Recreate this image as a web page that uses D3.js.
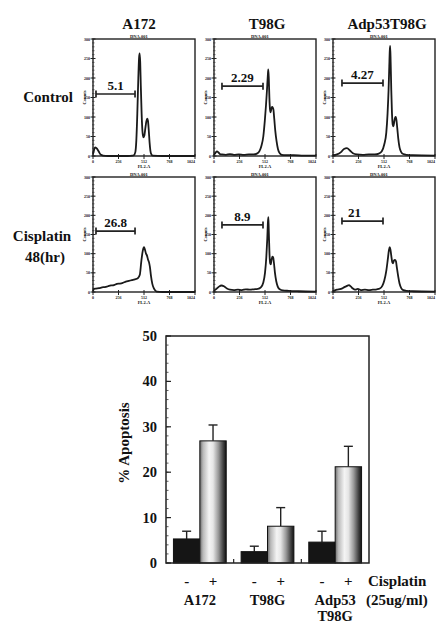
<!DOCTYPE html>
<html><head><meta charset="utf-8">
<script src="https://cdn.jsdelivr.net/npm/d3@7/dist/d3.min.js"></script>
<style>
html,body{margin:0;padding:0;background:#fff;}
svg{display:block;}
text{font-family:"Liberation Serif","Times New Roman",serif;font-weight:bold;fill:#111;-webkit-font-smoothing:antialiased;}
</style></head>
<body><svg id="c" width="436" height="624"></svg>
<script>
// ---------- DATA ----------
const cellLines = ["A172", "T98G", "Adp53T98G"];
const conditions = ["Control", "Cisplatin 48(hr)"];

// DNA histograms: [channel, count]
const a172Ctrl = [[0,5],[10,15],[20,22],[35,20],[50,15],[65,8],[80,3],[100,1],[150,0],[250,0],[350,0],[395,1],[410,2],[425,10],[435,40],[445,110],[455,200],[462,250],[468,263],[474,240],[480,180],[488,110],[496,65],[505,48],[515,52],[525,70],[535,88],[545,96],[552,90],[560,65],[568,35],[576,14],[585,5],[600,1],[700,0],[850,0],[1024,0]];
const t98gCtrl = [[0,3],[15,8],[30,12],[45,9],[60,5],[80,4],[120,3],[160,5],[200,3],[250,4],[300,3],[350,4],[400,4],[430,6],[455,12],[475,25],[495,50],[510,90],[522,130],[532,170],[540,205],[545,222],[550,200],[556,150],[562,120],[568,112],[575,120],[583,126],[590,124],[597,118],[605,95],[615,65],[628,38],[642,18],[660,7],[680,3],[720,2],[800,2],[900,1],[1024,1]];
const adpCtrl = [[0,2],[40,4],[80,10],[110,18],[140,20],[170,14],[200,7],[240,4],[300,3],[360,4],[420,4],[460,6],[490,12],[515,30],[535,60],[548,110],[558,170],[565,230],[570,270],[574,282],[579,240],[585,170],[592,110],[600,80],[607,76],[615,88],[623,98],[630,100],[637,92],[645,72],[655,45],[668,22],[685,10],[705,5],[740,3],[800,2],[1024,1]];
const a172Cis = [[0,3],[10,8],[30,9],[60,10],[90,12],[120,13],[150,15],[180,17],[210,18],[240,21],[270,22],[300,24],[330,27],[360,29],[390,31],[420,33],[450,36],[470,45],[485,80],[500,108],[512,117],[522,110],[532,100],[542,95],[552,85],[562,78],[572,64],[582,42],[595,22],[610,10],[625,4],[640,1],[700,0],[850,0],[1024,0]];
const t98gCis = [[0,3],[25,8],[50,14],[75,17],[100,15],[130,9],[160,6],[200,5],[240,6],[280,5],[320,7],[360,6],[400,7],[440,8],[470,12],[495,25],[512,50],[525,90],[535,140],[542,185],[546,195],[550,160],[557,100],[564,75],[570,72],[578,85],[586,92],[594,90],[602,75],[612,50],[625,28],[640,14],[660,7],[690,4],[750,3],[850,2],[1024,1]];
const adpCis = [[0,3],[40,6],[80,8],[110,12],[140,16],[160,18],[180,14],[200,9],[220,6],[250,8],[280,5],[320,6],[360,5],[400,6],[440,7],[470,9],[495,16],[515,30],[535,55],[550,85],[562,110],[570,117],[577,110],[585,95],[595,78],[603,75],[612,82],[622,84],[632,80],[642,62],[655,40],[668,22],[685,10],[705,5],[740,3],[800,2],[1024,1]];
const histograms = [a172Ctrl, t98gCtrl, adpCtrl, a172Cis, t98gCis, adpCis];

// sub-G1 gates
const gateLabels = ["5.1", "2.29", "4.27", "26.8", "8.9", "21"];
const gateFrom  = [30, 80, 90, 30, 80, 90];
const gateTo    = [422, 492, 502, 422, 492, 502];
const gateLevel = [159, 179, 187, 159, 175, 185];

const histXTicks = [0, 256, 512, 768, 1024];
const histYTicks = [0, 50, 100, 150, 200, 250, 300];

// bar chart
const groups = ["A172", "T98G", "Adp53T98G"];
const groupLabels = [["A172"], ["T98G"], ["Adp53", "T98G"]];
const treatments = ["-", "+"];
const ctrlApoptosis = [5.3, 2.5, 4.6];
const ctrlSD = [1.7, 1.2, 2.4];
const cisApoptosis = [26.9, 8.1, 21.2];
const cisSD = [3.5, 4.1, 4.5];
const barYTicks = [0, 10, 20, 30, 40, 50];

// ---------- LAYOUT ----------
const svg = d3.select("#c");
const colLeft = [93, 214, 333];
const rowTop = [39, 177];
const PW = 102, PH = [117, 115];
const titleDx = [-5, 2, 3];

const hx = d3.scaleLinear().domain([0, 1024]).range([0, PW]);

// column titles
cellLines.forEach((c, i) => {
  svg.append("text").attr("x", colLeft[i] + PW / 2 + titleDx[i]).attr("y", 29)
    .attr("text-anchor", "middle").attr("font-size", 15).text(c);
});
// row labels
svg.append("text").attr("x", 73).attr("y", 102).attr("text-anchor", "end").attr("font-size", 15).text("Control");
svg.append("text").attr("x", 42).attr("y", 241).attr("text-anchor", "middle").attr("font-size", 15).text("Cisplatin");
svg.append("text").attr("x", 45).attr("y", 262).attr("text-anchor", "middle").attr("font-size", 15).text("48(hr)");

histograms.forEach((data, k) => {
  const r = Math.floor(k / 3), c = k % 3;
  const h = PH[r];
  const g = svg.append("g").attr("transform", `translate(${colLeft[c]},${rowTop[r]})`);
  const hy = d3.scaleLinear().domain([0, 300]).range([h, 0]);

  // frame
  g.append("rect").attr("width", PW).attr("height", h).attr("fill", "#fff")
    .attr("stroke", "#222").attr("stroke-width", 1.4);

  // tiny header text (file name)
  g.append("text").attr("x", PW * 0.45).attr("y", -1.5).attr("text-anchor", "middle")
    .attr("font-size", 4.5).attr("fill", "#222").text("DNA.001");

  // left axis: minor ticks
  const minor = d3.range(0, 301, 10);
  g.selectAll(".mn").data(minor).join("line")
    .attr("x1", -1).attr("x2", 1.5).attr("y1", d => hy(d)).attr("y2", d => hy(d))
    .attr("stroke", "#333").attr("stroke-width", 0.7);
  g.selectAll(".mj").data(histYTicks).join("line")
    .attr("x1", -2.5).attr("x2", 2.5).attr("y1", d => hy(d)).attr("y2", d => hy(d))
    .attr("stroke", "#222").attr("stroke-width", 1);
  g.selectAll(".yl").data(histYTicks).join("text")
    .attr("x", -3).attr("y", d => hy(d) + 1.5).attr("text-anchor", "end")
    .attr("font-size", 4).attr("fill", "#333").text(d => d);
  g.append("text").attr("transform", `translate(-7,${h * 0.5}) rotate(-90)`)
    .attr("text-anchor", "middle").attr("font-size", 4.5).attr("fill", "#333").text("Counts");

  // bottom axis
  g.selectAll(".bx").data(histXTicks).join("line")
    .attr("x1", d => hx(d)).attr("x2", d => hx(d)).attr("y1", h - 2).attr("y2", h + 3)
    .attr("stroke", "#222").attr("stroke-width", 1);
  g.selectAll(".bxl").data(histXTicks).join("text")
    .attr("x", d => hx(d)).attr("y", h + 7)
    .attr("text-anchor", (d, i) => i === histXTicks.length - 1 ? "end" : "middle")
    .attr("font-size", 4).attr("fill", "#333").text(d => d);
  g.append("text").attr("x", hx(512)).attr("y", h + 11.5).attr("text-anchor", "middle")
    .attr("font-size", 4.5).attr("fill", "#333").text("FL2-A");

  // histogram line
  const line = d3.line().x(d => hx(d[0])).y(d => hy(d[1])).curve(d3.curveMonotoneX);
  g.append("path").datum(data).attr("d", line).attr("fill", "none")
    .attr("stroke", "#1a1a1a").attr("stroke-width", 1.8).attr("stroke-linejoin", "round");

  // gate
  const gy = hy(gateLevel[k]);
  const x1 = hx(gateFrom[k]), x2 = hx(gateTo[k]);
  g.append("line").attr("x1", x1).attr("x2", x2).attr("y1", gy).attr("y2", gy)
    .attr("stroke", "#222").attr("stroke-width", 1.7);
  [x1, x2].forEach(x => g.append("line").attr("x1", x).attr("x2", x).attr("y1", gy - 3.5).attr("y2", gy + 3.5)
    .attr("stroke", "#222").attr("stroke-width", 1.7));
  g.append("text").attr("x", (x1 + x2) / 2 - (k === 5 ? 8 : 0)).attr("y", gy - 4)
    .attr("text-anchor", "middle").attr("font-size", 13).text(gateLabels[k]);
});

// ---------- BAR CHART ----------
const bx0 = 166, bx1 = 369, by0 = 563, by1 = 336;
const x0 = d3.scaleBand().domain(groups).range([bx0, bx1]).paddingInner(0.22).paddingOuter(0.11);
const x1s = d3.scaleBand().domain(treatments).range([0, x0.bandwidth()]).padding(0);
const y = d3.scaleLinear().domain([0, 50]).range([by0, by1]);

const defs = svg.append("defs");
const grad = defs.append("linearGradient").attr("id", "cyl").attr("x1", "0").attr("x2", "1").attr("y1", "0").attr("y2", "0");
[[0, "#6a6a6a"], [0.12, "#b8b8b8"], [0.35, "#f4f4f4"], [0.5, "#e6e6e6"], [0.7, "#9a9a9a"], [0.88, "#444"], [1, "#111"]]
  .forEach(([o, col]) => grad.append("stop").attr("offset", o).attr("stop-color", col));

const bg = svg.append("g");
bg.append("rect").attr("x", bx0).attr("y", by1).attr("width", bx1 - bx0).attr("height", by0 - by1)
  .attr("fill", "#fff");

const bars = [];
groups.forEach((gName, i) => {
  bars.push({ g: gName, t: "-", v: ctrlApoptosis[i], sd: ctrlSD[i] });
  bars.push({ g: gName, t: "+", v: cisApoptosis[i], sd: cisSD[i] });
});

// error bars
bars.forEach(b => {
  const cx = x0(b.g) + x1s(b.t) + x1s.bandwidth() / 2;
  bg.append("line").attr("x1", cx).attr("x2", cx).attr("y1", y(b.v)).attr("y2", y(b.v + b.sd))
    .attr("stroke", "#222").attr("stroke-width", 1.4);
  bg.append("line").attr("x1", cx - 4.5).attr("x2", cx + 4.5).attr("y1", y(b.v + b.sd)).attr("y2", y(b.v + b.sd))
    .attr("stroke", "#222").attr("stroke-width", 1.4);
});
bg.selectAll(".bar").data(bars).join("rect")
  .attr("x", d => x0(d.g) + x1s(d.t))
  .attr("y", d => y(d.v))
  .attr("width", x1s.bandwidth())
  .attr("height", d => by0 - y(d.v))
  .attr("fill", d => d.t === "-" ? "#151515" : "url(#cyl)")
  .attr("stroke", "#111").attr("stroke-width", 1);

// frame
bg.append("rect").attr("x", bx0).attr("y", by1).attr("width", bx1 - bx0).attr("height", by0 - by1)
  .attr("fill", "none").attr("stroke", "#222").attr("stroke-width", 1.5);

// y axis ticks (inward)
bg.selectAll(".ymn").data(d3.range(0, 51, 2)).join("line")
  .attr("x1", bx0).attr("x2", bx0 + 2.5).attr("y1", d => y(d)).attr("y2", d => y(d))
  .attr("stroke", "#333").attr("stroke-width", 0.8);
bg.selectAll(".ymj").data(barYTicks).join("line")
  .attr("x1", bx0).attr("x2", bx0 + 5).attr("y1", d => y(d)).attr("y2", d => y(d))
  .attr("stroke", "#222").attr("stroke-width", 1.2);
bg.selectAll(".ytl").data(barYTicks).join("text")
  .attr("x", bx0 - 9).attr("y", d => y(d) + 5).attr("text-anchor", "end")
  .attr("font-size", 14.5).text(d => d);

// x axis small ticks at group boundaries
groups.slice(1).forEach(gName => {
  const xb = x0(gName) - x0.step() * x0.paddingInner() / 2;
  bg.append("line").attr("x1", xb).attr("x2", xb).attr("y1", by0).attr("y2", by0 - 4)
    .attr("stroke", "#222").attr("stroke-width", 1.2);
});

// y label
bg.append("text").attr("transform", `translate(${129},${443}) rotate(-90)`)
  .attr("text-anchor", "middle").attr("font-size", 15).text("% Apoptosis");

// x labels
groups.forEach((gName, i) => {
  treatments.forEach(t => {
    bg.append("text").attr("x", x0(gName) + x1s(t) + x1s.bandwidth() / 2).attr("y", 586)
      .attr("text-anchor", "middle").attr("font-size", 15).text(t);
  });
  groupLabels[i].forEach((l, j) => {
    bg.append("text").attr("x", x0(gName) + x0.bandwidth() / 2).attr("y", 605 + j * 15.5)
      .attr("text-anchor", "middle").attr("font-size", 14.5).text(l);
  });
});
bg.append("text").attr("x", 368).attr("y", 586).attr("font-size", 15).text("Cisplatin");
bg.append("text").attr("x", 366).attr("y", 605).attr("font-size", 15).text("(25ug/ml)");
</script></body></html>
